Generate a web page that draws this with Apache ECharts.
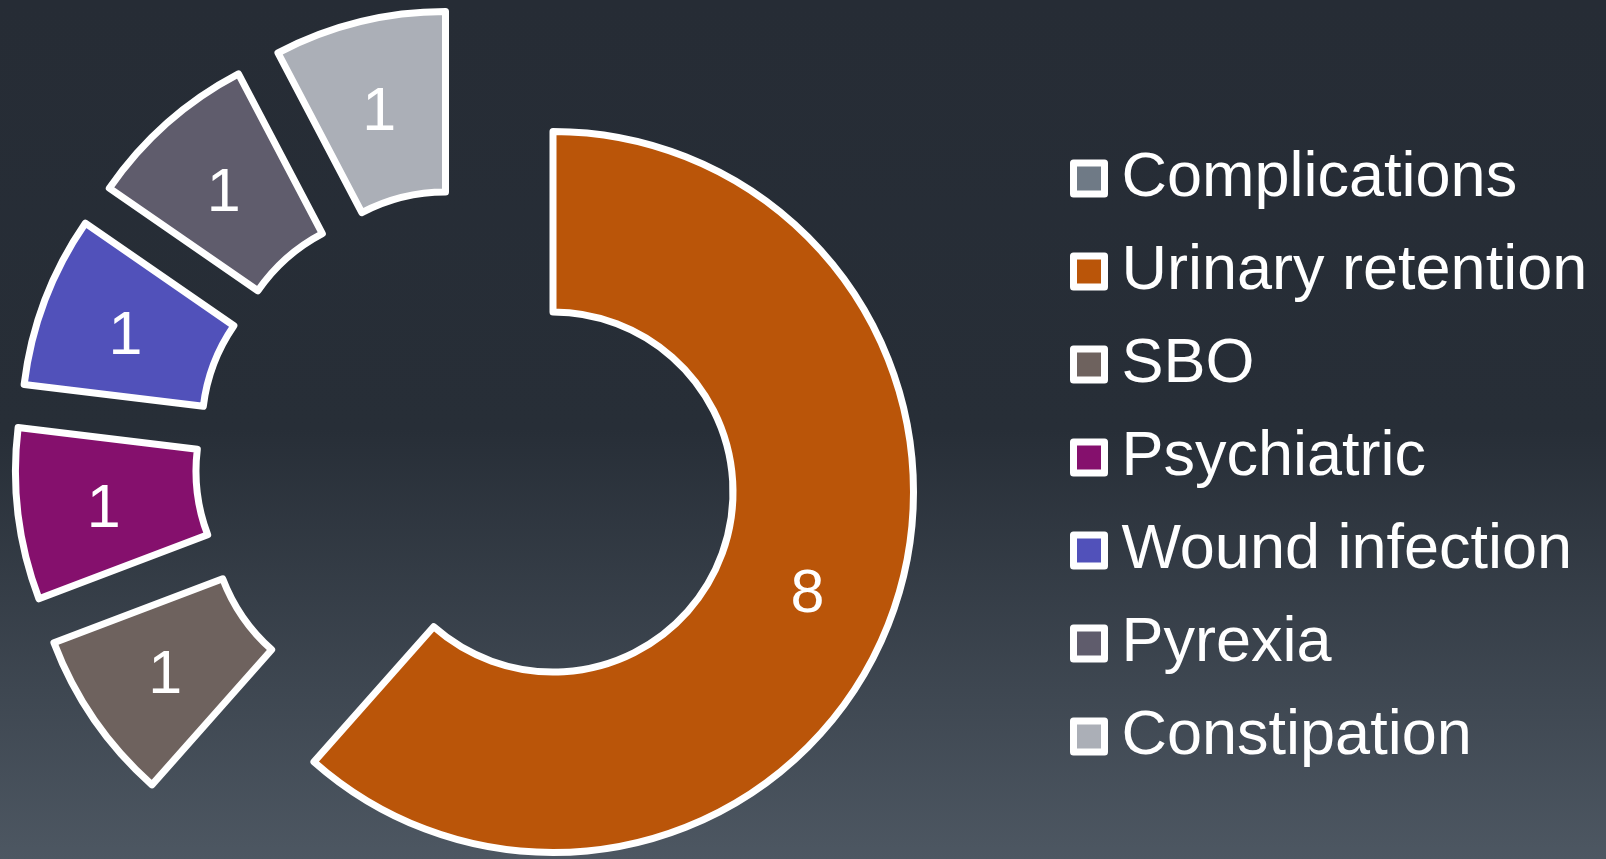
<!DOCTYPE html>
<html>
<head>
<meta charset="utf-8">
<script src="https://cdn.jsdelivr.net/npm/echarts@6/dist/echarts.min.js"></script>
<style>
html,body{margin:0;padding:0;width:1606px;height:859px;overflow:hidden;}
#c{width:1606px;height:859px;background:linear-gradient(to bottom,#262c35 0%,#272e37 50%,#4d5762 100%);}
</style>
</head>
<body>
<div id="c"></div>
<script>
// ---- data ----
const categories = ['Complications','Urinary retention','SBO','Psychiatric','Wound infection','Pyrexia','Constipation'];
const values = [0, 8, 1, 1, 1, 1, 1];
const colors = ['#6f7a86','#ba5509','#6e625e','#85106d','#5151ba','#5f5c6c','#abafb7'];

// ---- layout (explode offsets of each slice from the ring centre, px) ----
const ringCenter = [553, 492];
const explodeOffsets = [[0,0],[0,0],[-162,23],[-177,-21],[-171,-64],[-147,-99],[-107.5,-120]];
const ringRadius = [180, 360.5];

const chart = echarts.init(document.getElementById('c'), null, {renderer:'canvas'});

const series = [];
categories.forEach((name, target) => {
  if (values[target] <= 0) return;
  series.push({
    type: 'pie',
    name: name,
    center: [ringCenter[0] + explodeOffsets[target][0], ringCenter[1] + explodeOffsets[target][1]],
    radius: ringRadius,
    startAngle: 90,
    clockwise: true,
    avoidLabelOverlap: false,
    silent: true,
    animation: false,
    labelLine: {show: false},
    data: categories.map((n, i) => ({
      name: n,
      value: values[i],
      itemStyle: i === target
        ? {color: colors[i], borderColor: '#ffffff', borderWidth: 7, borderJoin: 'round'}
        : {color: 'rgba(0,0,0,0)', borderWidth: 0},
      label: {
        show: i === target,
        position: 'inside',
        formatter: '{c}',
        color: '#ffffff',
        fontSize: 61,
        offset: [-1, 6],
        fontFamily: 'Liberation Sans, Arial, sans-serif',
        textBorderWidth: 0
      }
    }))
  });
});

chart.setOption({
  backgroundColor: 'transparent',
  legend: {
    orient: 'vertical',
    left: 1065,
    top: 142,
    itemWidth: 31,
    itemHeight: 31,
    itemGap: 30,
    icon: 'rect',
    selectedMode: false,
    itemStyle: {borderColor: '#ffffff', borderWidth: 7},
    textStyle: {
      color: '#ffffff',
      fontSize: 63,
      lineHeight: 63,
      fontFamily: 'Liberation Sans, Arial, sans-serif',
      padding: [0, 0, 0, 12]
    },
    data: categories.map((n, i) => ({name: n, itemStyle: {color: colors[i], borderColor: '#ffffff', borderWidth: 7}}))
  },
  series: series
});
</script>
</body>
</html>
